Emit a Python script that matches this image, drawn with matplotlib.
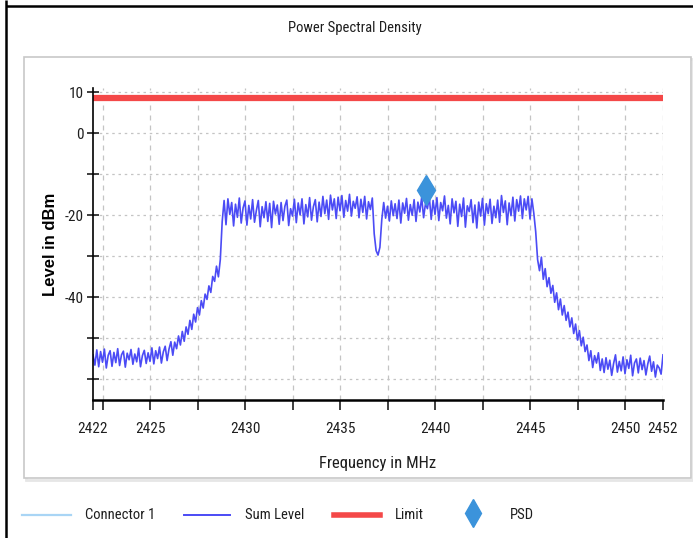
import numpy as np
import matplotlib
matplotlib.use("Agg")
import matplotlib.pyplot as plt
from matplotlib.patches import Rectangle

plt.rcParams["font.family"] = ["Roboto Condensed", "DejaVu Sans"]

# Sum Level trace, one value every 0.1 MHz from 2422 to 2452 MHz
f_start, f_stop = 2422.0, 2452.0
sum_level = [
    -54.0, -56.5, -52.8, -56.9, -53.2, -55.8, -52.6, -57.2, -54.1, -53.0,
    -56.8, -53.4, -55.9, -52.5, -56.6, -54.0, -53.1, -57.0, -53.6, -55.2,
    -52.7, -56.3, -53.8, -55.7, -52.4, -56.9, -54.2, -52.9, -56.1, -53.5,
    -55.6, -52.3, -56.2, -53.0, -54.9, -52.1, -56.0, -53.3, -51.9, -55.4,
    -52.6, -50.8, -54.1, -50.9, -52.5, -49.4, -51.6, -48.3, -50.7, -47.2,
    -49.0, -45.6, -47.8, -44.1, -46.0, -42.5, -44.3, -40.8, -42.6, -39.2,
    -40.5, -37.2, -38.8, -34.9, -36.1, -32.4, -35.0, -30.8, -21.5, -16.4,
    -22.3, -16.0, -19.8, -16.9, -22.6, -17.3, -20.5, -15.8, -21.9, -18.2,
    -16.5, -22.4, -17.6, -20.9, -16.2, -21.7, -18.8, -16.4, -22.8, -17.9,
    -20.6, -16.7, -21.5, -17.1, -23.0, -16.6, -19.7, -17.5, -22.2, -16.9,
    -21.3, -17.8, -16.3, -22.5, -18.4, -20.2, -16.1, -21.8, -17.0, -19.9,
    -16.0, -22.1, -17.4, -20.4, -15.7, -21.2, -17.9, -16.2, -21.6, -16.8,
    -20.3, -15.4, -19.6, -16.3, -21.0, -15.1, -18.7, -16.0, -20.8, -15.6,
    -18.9, -15.2, -20.5, -16.4, -19.0, -14.9, -20.2, -16.6, -18.3, -15.5,
    -20.6, -16.1, -19.3, -15.4, -20.9, -16.7, -18.6, -15.8, -24.5, -28.6,
    -29.7, -27.8, -21.0, -16.9, -20.7, -17.8, -21.4, -16.5, -20.1, -17.2,
    -20.8, -16.3, -21.9, -17.0, -19.5, -15.9, -21.2, -17.4, -20.0, -16.2,
    -21.5, -16.8, -19.2, -15.6, -20.6, -17.1, -18.4, -15.5, -21.0, -16.4,
    -19.8, -15.7, -21.3, -16.9, -18.9, -15.3, -20.7, -17.6, -22.1, -16.0,
    -19.4, -16.6, -22.7, -17.3, -20.3, -15.8, -22.9, -17.7, -19.1, -16.2,
    -21.8, -17.5, -23.1, -16.8, -20.2, -15.9, -22.4, -17.2, -19.6, -16.1,
    -22.0, -17.8, -20.6, -16.3, -21.7, -15.2, -19.3, -16.5, -22.3, -17.0,
    -20.1, -15.6, -21.4, -16.2, -19.0, -15.3, -20.8, -16.0, -18.7, -15.4,
    -20.9, -16.0, -19.5, -24.0, -30.8, -33.5, -30.2, -35.6, -33.0, -37.4,
    -35.2, -39.0, -37.1, -41.2, -38.9, -43.0, -40.4, -44.3, -42.0, -45.6,
    -43.6, -47.2, -45.0, -48.8, -46.5, -50.4, -48.1, -51.8, -49.7, -53.2,
    -51.6, -55.4, -53.0, -57.1, -54.2, -56.0, -53.5, -57.8, -55.0, -58.3,
    -54.7, -57.5, -55.3, -59.0, -56.1, -54.0, -58.2, -55.6, -57.9, -54.5,
    -58.6, -55.2, -57.3, -54.1, -59.1, -56.0, -55.0, -58.4, -54.8, -57.6,
    -55.4, -58.9, -56.2, -54.3, -58.0, -55.7, -59.4, -56.5, -57.2, -58.7,
    -54.0,
]
limit_level = 8.5
psd_freq = 2439.53
psd_level = -13.8

x_ticks = [2422, 2422.5, 2425, 2427.5, 2430, 2432.5, 2435, 2437.5, 2440,
           2442.5, 2445, 2447.5, 2450, 2452]
x_labels = ["2422", "", "2425", "", "2430", "", "2435", "", "2440",
            "", "2445", "", "2450", "2452"]
y_ticks = [10, 0, -10, -20, -30, -40, -50, -60]
y_labels = ["10", "0", "", "-20", "", "-40", "", ""]

c_trace = "#4b4bf5"
c_limit = "#f44848"
c_psd = "#3b93db"
c_conn = "#a9d5f5"
c_text = "#1e1e1e"

W, H = 693, 538
fig = plt.figure(figsize=(W / 100, H / 100), dpi=100)

# background layer in pixel coordinates: frame, panel box, title, legend
bg = fig.add_axes([0, 0, 1, 1], zorder=0)
bg.set_xlim(0, W)
bg.set_ylim(H, 0)
bg.axis("off")
bg.add_patch(Rectangle((26, 59), 667, 421, facecolor="none", edgecolor="#e6e6e6", lw=2))
bg.add_patch(Rectangle((24, 57), 667, 421, facecolor="white", edgecolor="#c8c8c8", lw=1.2))
bg.plot([6, 6], [0, H], color="black", lw=1.8, solid_capstyle="butt")
bg.plot([6, W], [6, 6], color="black", lw=1.8, solid_capstyle="butt")
bg.text(355, 28, "Power Spectral Density", ha="center", va="center", fontsize=10.5, color=c_text)

leg_y = 515
bg.plot([22, 71], [leg_y, leg_y], color=c_conn, lw=1.6)
bg.text(85, leg_y, "Connector 1", va="center", fontsize=10.5, color=c_text)
bg.plot([184, 230], [leg_y, leg_y], color=c_trace, lw=1.4)
bg.text(245, leg_y, "Sum Level", va="center", fontsize=10.5, color=c_text)
bg.plot([334, 380], [leg_y, leg_y], color=c_limit, lw=4)
bg.text(395, leg_y, "Limit", va="center", fontsize=10.5, color=c_text)
bg.plot([473], [leg_y - 2], marker="d", color=c_psd, markersize=14, linestyle="none")
bg.text(510, leg_y, "PSD", va="center", fontsize=10.5, color=c_text)

# main chart
ax = fig.add_axes([93 / W, 1 - 400 / H, 570 / W, 312 / H], zorder=1)
ax.patch.set_alpha(0)
freqs = np.linspace(f_start, f_stop, len(sum_level))
ax.plot(freqs, sum_level, color=c_trace, lw=1.2)
ax.plot([f_start, f_stop], [limit_level, limit_level], color=c_limit, lw=4.5, solid_capstyle="butt")
ax.plot([psd_freq], [psd_level], marker="d", color=c_psd, markersize=15, linestyle="none")

ax.set_xlim(f_start, f_stop)
ax.set_ylim(-65, 11)
ax.set_xticks(x_ticks)
ax.set_xticklabels(x_labels)
ax.set_yticks(y_ticks)
ax.set_yticklabels(y_labels)
ax.tick_params(axis="x", direction="out", length=7, width=1.2, pad=9, labelsize=11, colors=c_text)
ax.tick_params(axis="y", direction="inout", length=9, width=1.2, pad=2, labelsize=11, colors=c_text)

for x in x_ticks[1:]:
    ax.axvline(x, color="#c4c4c4", lw=0.9, ls=(0, (4, 4)), zorder=0)
for y in y_ticks:
    ax.axhline(y, color="#c4c4c4", lw=0.9, ls=(0, (2, 3)), zorder=0)

for side in ["top", "right"]:
    ax.spines[side].set_visible(False)
ax.spines["left"].set_linewidth(1.2)
ax.spines["bottom"].set_linewidth(1.8)

ax.set_xlabel("Frequency in MHz", fontsize=12, color=c_text)
ax.xaxis.set_label_coords(0.5, -0.18)
ax.set_ylabel("Level in dBm", fontsize=12, fontweight="bold", family=["Liberation Sans", "DejaVu Sans"])
ax.yaxis.set_label_coords(-0.062, 0.5)

fig.savefig("out.png", dpi=100)
